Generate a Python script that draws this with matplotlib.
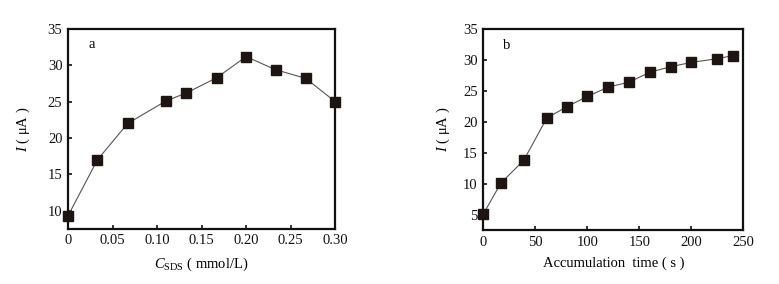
import matplotlib
matplotlib.use("Agg")
import matplotlib.pyplot as plt

# Panel a: current vs SDS concentration
c_sds = [0, 0.033, 0.067, 0.11, 0.133, 0.167, 0.2, 0.233, 0.267, 0.3]
current_a = [9.3, 17.0, 22.0, 25.1, 26.2, 28.3, 31.2, 29.4, 28.2, 25.0]

# Panel b: current vs accumulation time
acc_time = [0, 17, 39, 61, 80, 100, 120, 140, 160, 180, 200, 225, 240]
current_b = [5.1, 10.1, 13.8, 20.6, 22.4, 24.1, 25.6, 26.4, 28.0, 28.9, 29.6, 30.2, 30.7]

xticks_a = [0, 0.05, 0.10, 0.15, 0.20, 0.25, 0.30]
xticklabels_a = ["0", "0.05", "0.10", "0.15", "0.20", "0.25", "0.30"]
xticks_b = [0, 50, 100, 150, 200, 250]

plt.rcParams["font.family"] = ["Liberation Serif", "DejaVu Serif"]
plt.rcParams["mathtext.fontset"] = "custom"
plt.rcParams["mathtext.rm"] = "Liberation Serif"
plt.rcParams["mathtext.it"] = "Liberation Serif:italic"
plt.rcParams["font.size"] = 10.5

fig = plt.figure(figsize=(7.79, 2.84), dpi=100)
ax1 = fig.add_axes([0.0873, 0.194, 0.343, 0.704])
ax2 = fig.add_axes([0.6204, 0.190, 0.334, 0.708])


def style(ax):
    for s in ax.spines.values():
        s.set_linewidth(1.6)
        s.set_color("#111111")
    ax.tick_params(direction="in", length=3, width=1.2, labelsize=10.5,
                   colors="#111111", pad=4)


# Panel a
ax1.plot(c_sds, current_a, color="#555555", linewidth=0.8, marker="s",
         markersize=7.8, markerfacecolor="#1e1512", markeredgecolor="#1e1512",
         clip_on=False, zorder=3)
ax1.set_xlim(0, 0.30)
ax1.set_ylim(7.5, 35)
ax1.set_xticks(xticks_a)
ax1.set_xticklabels(xticklabels_a)
ax1.set_yticks([10, 15, 20, 25, 30, 35])
ax1.set_xlabel(r"$C_{\mathrm{SDS}}$ ( mmol/L)", fontsize=10.5, labelpad=6)
ax1.set_ylabel(r"$I$ ( μA )", fontsize=10.5, labelpad=11)
ax1.text(0.075, 0.92, "a", transform=ax1.transAxes, fontsize=10.5, va="center")
style(ax1)

# Panel b
ax2.plot(acc_time, current_b, color="#555555", linewidth=0.8, marker="s",
         markersize=7.8, markerfacecolor="#1e1512", markeredgecolor="#1e1512",
         clip_on=False, zorder=3)
ax2.set_xlim(0, 250)
ax2.set_ylim(2.5, 35)
ax2.set_xticks(xticks_b)
ax2.set_yticks([5, 10, 15, 20, 25, 30, 35])
ax2.set_xlabel("Accumulation  time ( s )", fontsize=10.5, labelpad=6)
ax2.set_ylabel(r"$I$ ( μA )", fontsize=10.5, labelpad=8)
ax2.text(0.075, 0.92, "b", transform=ax2.transAxes, fontsize=10.5, va="center")
style(ax2)

fig.savefig("out.png", dpi=100)
